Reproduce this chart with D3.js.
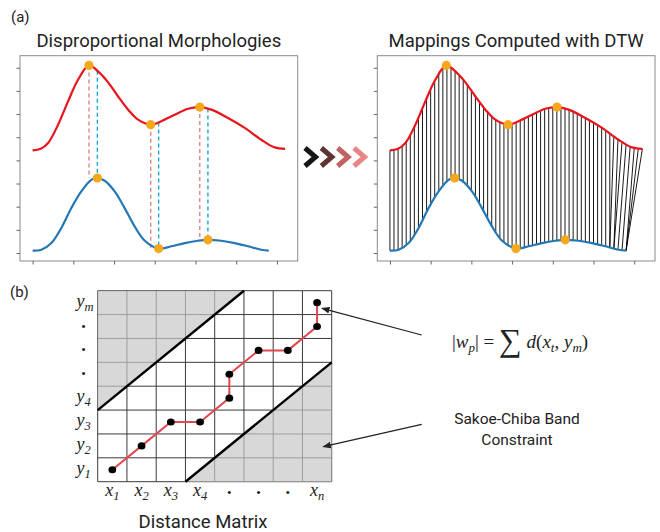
<!DOCTYPE html>
<html><head><meta charset="utf-8">
<script src="https://cdn.jsdelivr.net/npm/d3@7"></script>
<style>
html,body{margin:0;padding:0;background:#fff;}
svg{display:block;}
</style></head>
<body>
<svg id="chart" width="660" height="532"></svg>
<script>
// ---------- data ----------
const redX = [0,4.0,7.6,12.5,17.4,22.3,27.7,33.0,37.0,41.9,46.9,51.8,58.0,63.2,69.8,76.3,82.1,87.8,96.0,104.2,112.3,118.9,124];
const redY = [4.43,4.50,4.75,5.54,6.55,7.48,8.10,7.77,7.38,6.77,6.19,5.76,5.54,5.69,5.97,6.23,6.30,6.19,5.83,5.40,4.89,4.56,4.50];
const blueX = [0,4.3,9.2,14.1,19.0,23.9,28.8,31.8,35.4,40.3,45.2,50.1,55.1,61.9,68.1,74.7,81.2,86.1,92.7,99.3,105.8,112.3,116];
const blueY = [0.10,0.14,0.43,1.08,1.94,2.66,3.16,3.24,3.12,2.66,1.94,1.15,0.53,0.19,0.29,0.43,0.53,0.57,0.53,0.43,0.29,0.14,0.10];
const redKeyIdx = [6,12,16];
const blueKeyIdx = [7,13,17];
const xTicks = [0,20,40,60,80,100,120];
const yTicks = [0,1,2,3,4,5,6,7,8];
// DTW mapping: red sample x -> matched blue sample x
const dtwRed  = [0,2,4,6,8,10,12,14,16,18,20,22,24,26,28,30,32,34,36,38,40,42,44,46,48,50,52,54,56,58,60,62,64,66,68,70,72,74,76,78,80,82,84,86,88,90,92,94,96,98,100,102,104,106,108,110,112,114,116,118,120,122,124];
const dtwBlue = [0,2,4,6,8,10,12,14,16,18,20,22,24,26,28,30,32,34,36,38,40,42,44,46,48,50,52,54,56,58,60,62,64,66,68,70,72,74,76,78,80,82,84,86,88,90,92,94,96,98,100,102,104,106,108,108,110,110,112,114,116,116,116];
const panelTitles = ["Disproportional Morphologies","Mappings Computed with DTW"];
const chevronColors = ["#161616","#5e3434","#c46262","#e88585"];
// distance matrix
const nCols = 8, nRows = 8;
const pathCols = [0,1,2,3,4,4,5,6,7,7];
const pathRows = [0,1,2,2,3,4,5,5,6,7];
const upperBand = [[0,3],[5,8]];
const lowerBand = [[3,0],[8,5]];
const xLabels = [["x","1"],["x","2"],["x","3"],["x","4"],["•",""],["•",""],["•",""],["x","n"]];
const yLabels = [["y","1"],["y","2"],["y","3"],["y","4"],["•",""],["•",""],["•",""],["y","m"]];

// ---------- layout ----------
const svg = d3.select("#chart");
const W = 277.7, H = 205.3, panelTop = 55.7;
const panelLeft = [20, 377.3];
const x = d3.scaleLinear().domain([-6.2,130.2]).range([0,W]);
const y = d3.scaleLinear().domain([-0.345,8.52]).range([H,0]);
const line = d3.line().x(d=>x(d[0])).y(d=>y(d[1])).curve(d3.curveCatmullRom.alpha(0.5));
const redPts = redX.map((v,i)=>[v,redY[i]]);
const bluePts = blueX.map((v,i)=>[v,blueY[i]]);

function yOnPath(node, xt){
  const L = node.getTotalLength();
  let lo=0, hi=L;
  for(let k=0;k<40;k++){const m=(lo+hi)/2; const p=node.getPointAtLength(m); if(p.x<xt) lo=m; else hi=m;}
  return node.getPointAtLength((lo+hi)/2).y;
}

svg.append("text").attr("x",11).attr("y",22).attr("font-family","Roboto").attr("font-size",15).attr("fill","#222").text("(a)");
svg.append("text").attr("x",10).attr("y",297).attr("font-family","Roboto").attr("font-size",15).attr("fill","#222").text("(b)");

panelLeft.forEach((px,pi)=>{
  const g = svg.append("g").attr("transform",`translate(${px},${panelTop})`);
  svg.append("text").attr("x",px+W/2).attr("y",47).attr("text-anchor","middle")
    .attr("font-family","Roboto").attr("font-size",18.5).attr("fill","#222").text(panelTitles[pi]);
  g.append("rect").attr("width",W).attr("height",H).attr("fill","none").attr("stroke","#8a8a8a").attr("stroke-width",1);
  g.append("g").attr("transform",`translate(0,${H})`).call(d3.axisBottom(x).tickValues(xTicks).tickSize(3.5).tickFormat(""))
    .call(a=>{a.select(".domain").remove(); a.selectAll("line").attr("stroke","#666");});
  g.append("g").call(d3.axisLeft(y).tickValues(yTicks).tickSize(3.5).tickFormat(""))
    .call(a=>{a.select(".domain").remove(); a.selectAll("line").attr("stroke","#666");});

  const mapG = g.append("g");
  const dashG = g.append("g");
  const redPath = g.append("path").datum(redPts).attr("d",line).attr("fill","none").attr("stroke","#e8141c").attr("stroke-width",2.2);
  const bluePath = g.append("path").datum(bluePts).attr("d",line).attr("fill","none").attr("stroke","#2277b4").attr("stroke-width",2.2);
  const rn = redPath.node(), bn = bluePath.node();

  if(pi===0){
    redKeyIdx.forEach((ri,k)=>{
      const bi = blueKeyIdx[k];
      dashG.append("line").attr("x1",x(redX[ri])).attr("x2",x(redX[ri]))
        .attr("y1",y(redY[ri])).attr("y2",y(blueY[bi]))
        .attr("stroke","#e08585").attr("stroke-width",1.4).attr("stroke-dasharray","4,3");
      dashG.append("line").attr("x1",x(blueX[bi])).attr("x2",x(blueX[bi]))
        .attr("y1",yOnPath(rn,x(blueX[bi]))).attr("y2",y(blueY[bi]))
        .attr("stroke","#1da4d6").attr("stroke-width",1.4).attr("stroke-dasharray","4,3");
    });
  } else {
    dtwRed.forEach((rx,i)=>{
      const bx = dtwBlue[i];
      mapG.append("line").attr("x1",x(rx)).attr("y1",yOnPath(rn,x(rx)))
        .attr("x2",x(bx)).attr("y2",yOnPath(bn,x(bx)))
        .attr("stroke","#000").attr("stroke-width",0.9);
    });
  }
  redKeyIdx.forEach(ri=>g.append("circle").attr("cx",x(redX[ri])).attr("cy",y(redY[ri])).attr("r",4.6).attr("fill","#f6a81c"));
  blueKeyIdx.forEach(bi=>g.append("circle").attr("cx",x(blueX[bi])).attr("cy",y(blueY[bi])).attr("r",4.6).attr("fill","#f6a81c"));
});

// chevrons
const cx = d3.scaleLinear().domain([0,3]).range([305,354]);
chevronColors.forEach((c,i)=>{
  const x0 = cx(i);
  svg.append("path").attr("d",`M${x0},${148} L${x0+10.5},${157} L${x0},${166}`)
    .attr("fill","none").attr("stroke",c).attr("stroke-width",5).attr("stroke-linejoin","miter").attr("stroke-linecap","butt");
});

// ---------- distance matrix ----------
const mx = d3.scaleLinear().domain([0,nCols]).range([97.7,331.7]);
const my = d3.scaleLinear().domain([0,nRows]).range([481.7,290.7]);
const mg = svg.append("g");
d3.range(nCols+1).forEach(i=>mg.append("line").attr("x1",mx(i)).attr("x2",mx(i)).attr("y1",my(0)).attr("y2",my(nRows)).attr("stroke","#3a3a3a").attr("stroke-width",1));
d3.range(nRows+1).forEach(j=>mg.append("line").attr("y1",my(j)).attr("y2",my(j)).attr("x1",mx(0)).attr("x2",mx(nCols)).attr("stroke","#3a3a3a").attr("stroke-width",1));
const tri1 = [[upperBand[0][0],upperBand[0][1]],[upperBand[0][0],nRows],[upperBand[1][0],upperBand[1][1]]];
const tri2 = [[lowerBand[0][0],lowerBand[0][1]],[nCols,0],[lowerBand[1][0],lowerBand[1][1]]];
[tri1,tri2].forEach(t=>mg.append("path").attr("d","M"+t.map(p=>`${mx(p[0])},${my(p[1])}`).join("L")+"Z")
  .attr("fill","#c8c8c8").attr("fill-opacity",0.7));
[upperBand,lowerBand].forEach(b=>mg.append("line").attr("x1",mx(b[0][0])).attr("y1",my(b[0][1])).attr("x2",mx(b[1][0])).attr("y2",my(b[1][1]))
  .attr("stroke","#000").attr("stroke-width",2.4));
const cc = i=>mx(i+0.5), rc = j=>my(j+0.5);
mg.append("path").datum(pathCols.map((c,i)=>[cc(c),rc(pathRows[i])])).attr("d",d3.line())
  .attr("fill","none").attr("stroke","#e0474f").attr("stroke-width",2);
pathCols.forEach((c,i)=>mg.append("ellipse").attr("cx",cc(c)).attr("cy",rc(pathRows[i])).attr("rx",3.9).attr("ry",3.6).attr("fill","#000"));

xLabels.forEach((l,i)=>{
  const t = svg.append("text").attr("x",cc(i)).attr("y",l[1]?496:497).attr("text-anchor","middle")
    .attr("font-family","Liberation Serif").attr("font-style","italic").attr("font-size",18).attr("fill","#222");
  if(l[1]){t.append("tspan").text(l[0]); t.append("tspan").attr("font-size",12.5).attr("dy",4).text(l[1]);}
  else t.attr("font-style","normal").attr("font-size",13).text(l[0]);
});
yLabels.forEach((l,j)=>{
  const t = svg.append("text").attr("x",l[1]?76.5:83.5).attr("y",rc(j)+4).attr("text-anchor",l[1]?"start":"middle")
    .attr("font-family","Liberation Serif").attr("font-style","italic").attr("font-size",18).attr("fill","#222");
  if(l[1]){t.append("tspan").text(l[0]); t.append("tspan").attr("font-size",12.5).attr("dy",4).text(l[1]);}
  else t.attr("font-style","normal").attr("font-size",13).text(l[0]);
});
svg.append("text").attr("x",203).attr("y",528).attr("text-anchor","middle").attr("font-family","Roboto").attr("font-size",18.5).attr("fill","#222").text("Distance Matrix");

const defs = svg.append("defs");
defs.append("marker").attr("id","ah").attr("viewBox","0 0 10 10").attr("refX",9).attr("refY",5)
  .attr("markerWidth",7).attr("markerHeight",7).attr("orient","auto")
  .append("path").attr("d","M0,1 L10,5 L0,9 Z").attr("fill","#222");
svg.append("line").attr("x1",421.7).attr("y1",335).attr("x2",322).attr("y2",308.3).attr("stroke","#222").attr("stroke-width",1.2).attr("marker-end","url(#ah)");
svg.append("line").attr("x1",421.7).attr("y1",424.3).attr("x2",323.3).attr("y2",446.7).attr("stroke","#222").attr("stroke-width",1.2).attr("marker-end","url(#ah)");

const f = svg.append("text").attr("x",452).attr("y",348).attr("font-family","Liberation Serif").attr("font-size",19).attr("fill","#222");
f.append("tspan").attr("font-style","normal").text("|");
f.append("tspan").attr("font-style","italic").text("w");
f.append("tspan").attr("font-style","italic").attr("font-size",13).attr("dy",4).text("p");
f.append("tspan").attr("font-style","normal").attr("dy",-4).text("| =  ");
f.append("tspan").attr("font-style","normal").attr("font-size",32).attr("dy",3).text("∑");
f.append("tspan").attr("font-style","italic").attr("dy",-3).text(" d");
f.append("tspan").attr("font-style","normal").text("(");
f.append("tspan").attr("font-style","italic").text("x");
f.append("tspan").attr("font-style","italic").attr("font-size",13).attr("dy",4).text("t");
f.append("tspan").attr("font-style","normal").attr("dy",-4).text(", ");
f.append("tspan").attr("font-style","italic").text("y");
f.append("tspan").attr("font-style","italic").attr("font-size",13).attr("dy",4).text("m");
f.append("tspan").attr("font-style","normal").attr("dy",-4).text(")");

svg.append("text").attr("x",517).attr("y",424).attr("text-anchor","middle").attr("font-family","Roboto").attr("font-size",15.5).attr("fill","#222").text("Sakoe-Chiba Band");
svg.append("text").attr("x",517).attr("y",445).attr("text-anchor","middle").attr("font-family","Roboto").attr("font-size",15.5).attr("fill","#222").text("Constraint");
</script>
</body></html>
